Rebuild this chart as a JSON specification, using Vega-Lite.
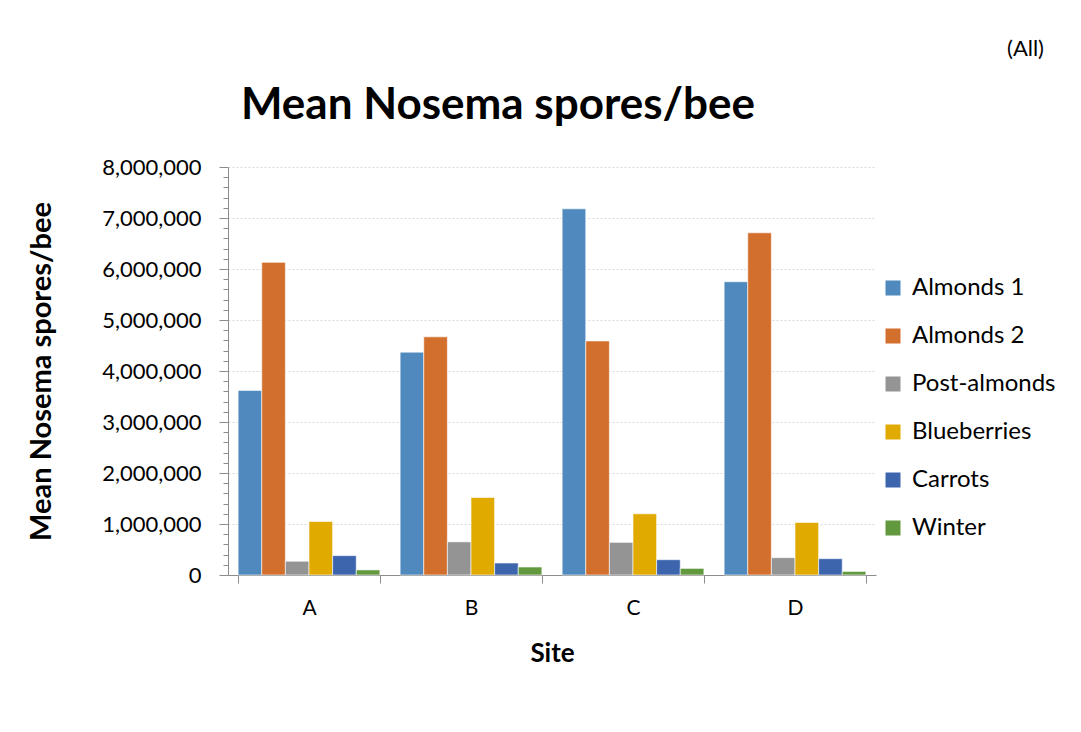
{
  "$schema": "https://vega.github.io/schema/vega-lite/v6.json",
  "background": "white",
  "padding": {"left": 27, "top": 38, "right": 30, "bottom": 5},
  "title": {"text": "(All)", "anchor": "end", "frame": "group", "dx": 168, "fontSize": 22, "font": "Lato", "fontWeight": "normal", "color": "#000000", "offset": 23},
  "config": {
    "font": "Lato",
    "view": {"stroke": null},
    "axis": {"labelColor": "#000000", "titleColor": "#000000", "domainColor": "#8c8c8c", "tickColor": "#8c8c8c", "labelFont": "Lato", "titleFont": "Lato"},
    "legend": {"labelFont": "Lato"}
  },
  "vconcat": [
    {
      "title": {"text": "Mean Nosema spores/bee", "fontSize": 44, "fontWeight": "bold", "font": "Lato", "color": "#000000", "anchor": "middle", "frame": "group", "dx": -54, "offset": 28},
      "width": 648,
      "height": 408,
      "data": {"values": [
        {"site": "A", "season": "Almonds 1", "value": 3620000},
        {"site": "A", "season": "Almonds 2", "value": 6130000},
        {"site": "A", "season": "Post-almonds", "value": 270000},
        {"site": "A", "season": "Blueberries", "value": 1050000},
        {"site": "A", "season": "Carrots", "value": 380000},
        {"site": "A", "season": "Winter", "value": 100000},
        {"site": "B", "season": "Almonds 1", "value": 4370000},
        {"site": "B", "season": "Almonds 2", "value": 4670000},
        {"site": "B", "season": "Post-almonds", "value": 650000},
        {"site": "B", "season": "Blueberries", "value": 1520000},
        {"site": "B", "season": "Carrots", "value": 235000},
        {"site": "B", "season": "Winter", "value": 157000},
        {"site": "C", "season": "Almonds 1", "value": 7180000},
        {"site": "C", "season": "Almonds 2", "value": 4590000},
        {"site": "C", "season": "Post-almonds", "value": 640000},
        {"site": "C", "season": "Blueberries", "value": 1200000},
        {"site": "C", "season": "Carrots", "value": 300000},
        {"site": "C", "season": "Winter", "value": 130000},
        {"site": "D", "season": "Almonds 1", "value": 5750000},
        {"site": "D", "season": "Almonds 2", "value": 6710000},
        {"site": "D", "season": "Post-almonds", "value": 340000},
        {"site": "D", "season": "Blueberries", "value": 1030000},
        {"site": "D", "season": "Carrots", "value": 320000},
        {"site": "D", "season": "Winter", "value": 70000}
      ]},
      "mark": {"type": "bar", "stroke": "#ffffff", "strokeWidth": 1, "strokeOpacity": 0.6},
      "encoding": {
        "x": {
          "field": "site", "type": "nominal",
          "scale": {"paddingInner": 0.125, "paddingOuter": 0.0625},
          "axis": {"title": "Site", "titleFontSize": 26, "titleFontWeight": "bold", "titlePadding": 22, "labelAngle": 0, "labelFontSize": 21, "labelPadding": 14, "tickBand": "extent", "tickSize": 8, "grid": false}
        },
        "xOffset": {"field": "season", "sort": ["Almonds 1", "Almonds 2", "Post-almonds", "Blueberries", "Carrots", "Winter"]},
        "y": {
          "field": "value", "type": "quantitative",
          "scale": {"domain": [0, 8000000], "nice": false},
          "axis": {
            "title": "Mean Nosema spores/bee", "titleFontSize": 29, "titleFontWeight": "bold", "titlePadding": 45,
            "labelFontSize": 22, "labelPadding": 18,
            "values": [0,200000,400000,600000,800000,1000000,1200000,1400000,1600000,1800000,2000000,2200000,2400000,2600000,2800000,3000000,3200000,3400000,3600000,3800000,4000000,4200000,4400000,4600000,4800000,5000000,5200000,5400000,5600000,5800000,6000000,6200000,6400000,6600000,6800000,7000000,7200000,7400000,7600000,7800000,8000000],
            "labelExpr": "datum.value % 1000000 === 0 ? format(datum.value, ',') : ''",
            "tickSize": {"condition": {"test": "datum.value % 1000000 === 0", "value": 9}, "value": 5},
            "grid": true,
            "gridColor": "#d9d9d9",
            "gridDash": [2, 2],
            "gridOpacity": {"condition": {"test": "datum.value % 1000000 === 0", "value": 1}, "value": 0}
          }
        },
        "color": {
          "field": "season", "type": "nominal",
          "sort": ["Almonds 1", "Almonds 2", "Post-almonds", "Blueberries", "Carrots", "Winter"],
          "scale": {"domain": ["Almonds 1", "Almonds 2", "Post-almonds", "Blueberries", "Carrots", "Winter"], "range": ["#4f89bd", "#d36f2c", "#949494", "#e0aa00", "#3c65ae", "#62993e"]},
          "legend": {"title": null, "orient": "none", "legendX": 653, "legendY": 109, "symbolType": "square", "symbolSize": 225, "symbolStrokeWidth": 0, "labelFontSize": 24, "labelColor": "#000000", "rowPadding": 24, "labelOffset": 7}
        }
      }
    }
  ],
  "resolve": {"legend": {"color": "independent"}}
}
